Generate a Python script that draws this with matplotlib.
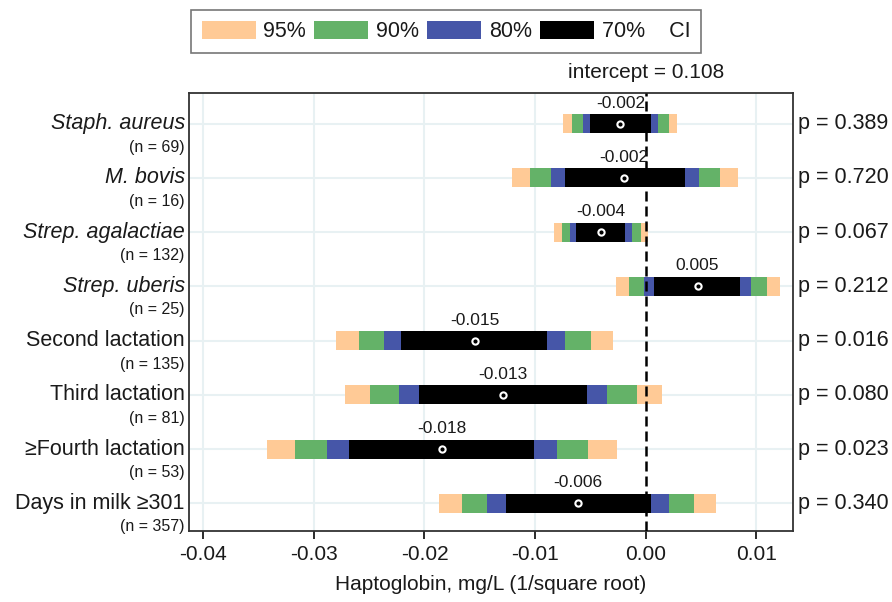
import numpy as np
import matplotlib
matplotlib.use("Agg")
import matplotlib.pyplot as plt
from matplotlib.patches import Patch
import matplotlib.transforms as mtransforms

plt.rcParams['font.family'] = ['Liberation Sans', 'DejaVu Sans']

# Predictors, sample sizes and p-values
names = ['Staph. aureus', 'M. bovis', 'Strep. agalactiae', 'Strep. uberis',
         'Second lactation', 'Third lactation', '\u2265Fourth lactation',
         'Days in milk \u2265301']
italic = [True, True, True, True, False, False, False, False]
n_obs = [69, 16, 132, 25, 135, 81, 53, 357]
p_vals = ['0.389', '0.720', '0.067', '0.212', '0.016', '0.080', '0.023', '0.340']

# Point estimates
estimate = [-0.00228, -0.00196, -0.00406, 0.00469, -0.01543, -0.01288, -0.01844, -0.00611]

# Confidence limits (lower, upper) for each level
ci95_lo = [-0.00746, -0.01212, -0.00830, -0.00268, -0.02801, -0.02723, -0.03424, -0.01865]
ci95_hi = [0.00286, 0.00839, 0.00024, 0.01215, -0.00298, 0.00144, -0.00262, 0.00638]
ci90_lo = [-0.00662, -0.01047, -0.00761, -0.00147, -0.02593, -0.02497, -0.03174, -0.01658]
ci90_hi = [0.00208, 0.00668, -0.00042, 0.01095, -0.00496, -0.00078, -0.00518, 0.00433]
ci80_lo = [-0.00569, -0.00857, -0.00686, -0.00018, -0.02368, -0.02229, -0.02879, -0.01435]
ci80_hi = [0.00115, 0.00478, -0.00120, 0.00954, -0.00728, -0.00346, -0.00806, 0.00208]
ci70_lo = [-0.00503, -0.00728, -0.00632, 0.00078, -0.02211, -0.02046, -0.02678, -0.01266]
ci70_hi = [0.00045, 0.00355, -0.00183, 0.00857, -0.00888, -0.00530, -0.01008, 0.00051]

intercept = 0.108

levels = ['95%', '90%', '80%', '70%']
colors = ['#FFCA96', '#64B268', '#4656A8', '#000000']
ci_lo = [ci95_lo, ci90_lo, ci80_lo, ci70_lo]
ci_hi = [ci95_hi, ci90_hi, ci80_hi, ci70_hi]

txt = '#1a1a1a'
grid_c = '#E8F1F3'

fig = plt.figure(figsize=(8.92, 6.02), dpi=100)
ax = fig.add_axes([189 / 892, 1 - 531 / 602, (793 - 189) / 892, (531 - 93) / 602])

rows = np.arange(1, len(names) + 1)

# grid
for xv in [-0.04, -0.03, -0.02, -0.01, 0.01]:
    ax.axvline(xv, color=grid_c, lw=1.5, zorder=0)
for r in rows:
    ax.axhline(r, color=grid_c, lw=1.5, zorder=0)

# stacked CI bars, widest first
for lo, hi, c in zip(ci_lo, ci_hi, colors):
    lo = np.array(lo)
    hi = np.array(hi)
    ax.barh(rows, hi - lo, left=lo, height=0.35, color=c, edgecolor='none', zorder=2)

ax.plot(estimate, rows, 'o', ms=4.5, mfc='none', mec='white', mew=1.5, zorder=4)

ax.axvline(0, color='black', lw=1.8, ls=(0, (4, 2)), zorder=3)

for r, e in zip(rows, estimate):
    ax.text(e, r - 0.38, f'{e:.3f}', ha='center', va='center', fontsize=12.5, color=txt, zorder=5)

ax.set_xlim(-0.04129, 0.01332)
ax.set_ylim(8.507, 0.434)
ax.set_xticks([-0.04, -0.03, -0.02, -0.01, 0.0, 0.01])
ax.set_xticklabels(['-0.04', '-0.03', '-0.02', '-0.01', '0.00', '0.01'])
ax.set_yticks([])
ax.tick_params(axis='x', length=6, width=1.3, labelsize=15, colors=txt, pad=4)
for s in ax.spines.values():
    s.set_color('#333333')
    s.set_linewidth(1.3)

ax.set_xlabel('Haptoglobin, mg/L (1/square root)', fontsize=15, color=txt, labelpad=8)

# row labels left and p-values right
trans = mtransforms.blended_transform_factory(ax.transAxes, ax.transData)
for r, nm, it, n, p in zip(rows, names, italic, n_obs, p_vals):
    ax.text(-0.007, r, nm, transform=trans, ha='right', va='center', fontsize=15.5,
            style='italic' if it else 'normal', color=txt)
    ax.text(-0.007, r + 0.43, f'(n = {n})', transform=trans, ha='right', va='center',
            fontsize=11.5, color=txt)
    ax.text(1.008, r, f'p = {p}', transform=trans, ha='left', va='center', fontsize=15.5, color=txt)

ax.text(0, 1.025, f'intercept = {intercept:.3f}',
        transform=mtransforms.blended_transform_factory(ax.transData, ax.transAxes),
        ha='center', va='bottom', fontsize=15, color=txt)

# legend
handles = [Patch(facecolor=c, edgecolor='none') for c in colors]
leg_labels = levels[:3] + ['70%    CI']
leg = fig.legend(handles, leg_labels, loc='upper center', bbox_to_anchor=(446 / 892, 1 - 10 / 602),
                 ncol=4, fontsize=15.5, frameon=True, fancybox=False, edgecolor='#555555',
                 handlelength=2.5, handleheight=0.95, handletextpad=0.35, columnspacing=0.4,
                 borderpad=0.5, borderaxespad=0)
leg.get_frame().set_linewidth(1.2)
for t in leg.get_texts():
    t.set_color(txt)

fig.savefig('out.png', dpi=100)
